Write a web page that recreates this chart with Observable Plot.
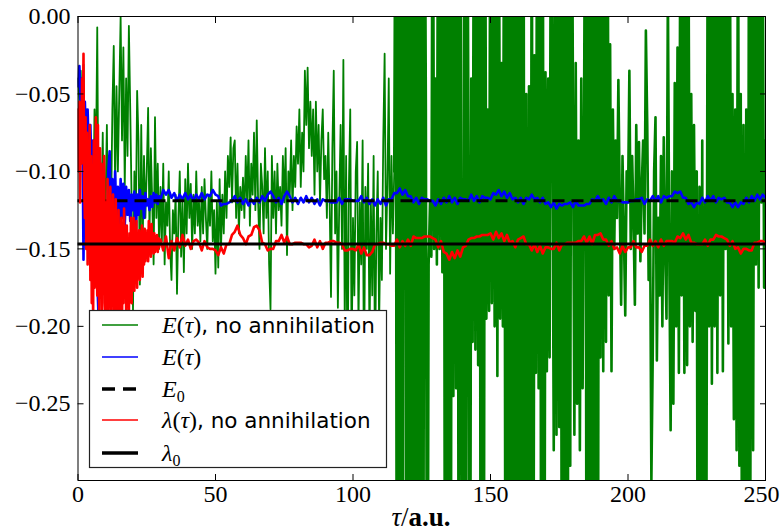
<!DOCTYPE html>
<html><head><meta charset="utf-8">
<script src="https://cdn.jsdelivr.net/npm/d3@7"></script>
<script src="https://cdn.jsdelivr.net/npm/@observablehq/plot@0.6"></script>
<style>
body{margin:0;background:white;}
#chart{position:relative;width:781px;height:531px;}
#chart svg{overflow:visible;}
#chart svg text{font-family:'Liberation Serif','Times New Roman',serif !important;}
</style>
</head><body><div id="chart"></div>
<script>
const xTicks = [0, 50, 100, 150, 200, 250];
const yTicks = [0, -0.05, -0.10, -0.15, -0.20, -0.25];
const xDomain = [0, 250];
const yDomain = [-0.2995, 0];
const E0 = -0.1189;
const lambda0 = -0.1468;

// E(tau), no annihilation : sampled every 0.5 a.u. from 0 to 250
const greenValues = [
 -0.040,-0.055,-0.035,-0.075,-0.031,-0.090,-0.060,-0.110,-0.070,-0.120,
 -0.085,-0.140,-0.060,-0.100,-0.007,-0.150,-0.090,-0.130,-0.075,-0.160,
 -0.120,-0.070,-0.150,-0.090,-0.130,-0.060,-0.019,-0.110,-0.045,-0.100,
 -0.050, 0.000,-0.080,-0.020,-0.110,-0.040,-0.090,-0.006,-0.060,-0.120,
 -0.190,-0.100,-0.140,-0.048,-0.080,-0.173,-0.070,-0.150,-0.090,-0.130,
 -0.100,-0.059,-0.140,-0.085,-0.120,-0.160,-0.065,-0.130,-0.095,-0.150,
 -0.110,-0.145,-0.095,-0.160,-0.120,-0.135,-0.100,-0.150,-0.170,-0.125,
 -0.140,-0.115,-0.179,-0.130,-0.100,-0.155,-0.120,-0.165,-0.105,-0.140,
 -0.095,-0.130,-0.108,-0.150,-0.115,-0.140,-0.100,-0.135,-0.120,-0.145,
 -0.110,-0.140,-0.105,-0.130,-0.150,-0.115,-0.135,-0.100,-0.145,-0.125,
 -0.166,-0.120,-0.162,-0.105,-0.150,-0.115,-0.140,-0.100,-0.130,-0.090,
 -0.110,-0.078,-0.120,-0.085,-0.080,-0.130,-0.095,-0.140,-0.110,-0.125,
 -0.104,-0.130,-0.090,-0.120,-0.080,-0.135,-0.095,-0.115,-0.075,-0.125,
 -0.067,-0.120,-0.150,-0.095,-0.110,-0.140,-0.085,-0.130,-0.100,-0.160,
 -0.189,-0.090,-0.130,-0.100,-0.140,-0.095,-0.125,-0.110,-0.135,-0.090,
 -0.120,-0.085,-0.154,-0.100,-0.115,-0.080,-0.125,-0.090,-0.110,-0.071,
 -0.095,-0.060,-0.110,-0.075,-0.100,-0.035,-0.070,-0.033,-0.085,-0.055,
 -0.090,-0.060,-0.115,-0.055,-0.100,-0.070,-0.120,-0.080,-0.060,-0.105,
 -0.090,-0.130,-0.075,-0.120,-0.181,-0.085,-0.035,-0.140,-0.100,-0.188,
 -0.120,-0.070,-0.150,-0.028,-0.200,-0.090,-0.250,-0.110,-0.060,-0.220,
 -0.130,-0.180,-0.100,-0.081,-0.200,-0.120,-0.160,-0.080,-0.240,-0.110,
 -0.150,-0.095,-0.210,-0.120,-0.180,-0.090,-0.230,-0.140,-0.100,-0.200,
 -0.130,-0.170,-0.080,-0.024,-0.150,-0.110,-0.040,-0.166,-0.090,-0.140,
 -0.100, 0.150,-0.550, 0.150,-0.550, 0.150,-0.550, 0.150, 0.120,-0.550,
  0.150,-0.550, 0.150,-0.550, 0.150,-0.550, 0.150,-0.550, 0.150,-0.550,
  0.150,-0.550, 0.150,-0.060,-0.550,-0.160,-0.120,-0.155, 0.150,-0.150,
 -0.040,-0.160, 0.150,-0.150, 0.150,-0.165, 0.150,-0.550, 0.150,-0.550,
  0.150,-0.550, 0.150,-0.245, 0.150,-0.240, 0.150,-0.550, 0.150,-0.200,
 -0.550, 0.150,-0.550, 0.150,-0.090,-0.550,-0.040,-0.210, 0.150,-0.215,
  0.150,-0.225, 0.150,-0.550, 0.150,-0.550, 0.150,-0.195,-0.060,-0.190,
  0.150,-0.185, 0.150,-0.200, 0.150,-0.232, 0.150,-0.195,-0.030,-0.200,
  0.150,-0.550, 0.150,-0.550, 0.150,-0.550, 0.150,-0.550, 0.150,-0.550,
  0.150,-0.550, 0.150,-0.550, 0.150,-0.550,-0.050,-0.550,-0.045,-0.550,
  0.150,-0.550,-0.025,-0.230, 0.150,-0.240, 0.150,-0.550, 0.150,-0.550,
 -0.036,-0.229,-0.040,-0.220, 0.150,-0.060,-0.280, 0.150,-0.270, 0.150,
 -0.265, 0.150,-0.550, 0.150,-0.550, 0.150,-0.550, 0.150,-0.290, 0.150,
 -0.060,-0.270,-0.030,-0.250,-0.080,-0.280,-0.040,-0.240,-0.070, 0.150,
 -0.550, 0.150,-0.550, 0.150,-0.550, 0.150,-0.550, 0.150,-0.550, 0.150,
 -0.220, 0.150,-0.229, 0.150,-0.210, 0.150,-0.180,-0.018,-0.229,-0.060,
 -0.150,-0.080,-0.130,-0.041,-0.120,-0.186,-0.090,-0.140,-0.193,-0.100,
 -0.120,-0.035,-0.150,-0.090,-0.130,-0.186,-0.070,-0.140,-0.081,-0.158,
 -0.110,-0.080,-0.140,-0.009,-0.070,-0.170,-0.120,-0.300,-0.218,-0.100,
 -0.065,-0.222,-0.130,-0.180,-0.090,-0.200,-0.078,-0.150,-0.195, 0.020,
 -0.150,-0.267,-0.100,-0.250,-0.043,-0.200,-0.020,-0.230, 0.050,-0.180,
  0.050,-0.230, 0.020,-0.225, 0.050,-0.200,-0.050,-0.210,-0.070,-0.190,
 -0.100,-0.550,-0.110,-0.400,-0.080,-0.550,-0.120,-0.350, 0.100,-0.200,
  0.100,-0.237, 0.100,-0.200, 0.100,-0.230, 0.100,-0.180, 0.100,-0.229,
  0.050,-0.150, 0.100,-0.211, 0.100,-0.200,-0.050,-0.260,-0.060,-0.280,
  0.100,-0.290,-0.050,-0.400,-0.070,-0.550,-0.060,-0.450, 0.100,-0.300,
  0.100,-0.280, 0.100,-0.160, 0.050,-0.175, 0.100,-0.120, 0.050,-0.175,
 -0.080
];

// E(tau): 0..29.5 every 0.5, then 30..250 every 1
const blueEarly = [
 -0.045,-0.032,-0.060,-0.040,-0.157,-0.055,-0.085,-0.060,-0.095,-0.070,
 -0.110,-0.080,-0.140,-0.095,-0.170,-0.195,-0.110,-0.150,-0.100,-0.160,
 -0.120,-0.185,-0.100,-0.087,-0.140,-0.105,-0.150,-0.100,-0.135,-0.110,
 -0.153,-0.105,-0.130,-0.108,-0.135,-0.110,-0.128,-0.112,-0.132,-0.115,
 -0.125,-0.113,-0.145,-0.115,-0.128,-0.112,-0.124,-0.116,-0.130,-0.114,
 -0.122,-0.118,-0.125,-0.116,-0.123,-0.114,-0.120,-0.115,-0.121,-0.116
];
const blueLate = [
 -0.118,-0.112,-0.115,-0.112,-0.117,-0.114,-0.119,-0.115,-0.118,-0.114,
 -0.118,-0.115,-0.119,-0.115,-0.118,-0.114,-0.118,-0.115,-0.116,-0.112,
 -0.115,-0.116,-0.122,-0.121,-0.121,-0.120,-0.119,-0.116,-0.120,-0.117,
 -0.121,-0.118,-0.122,-0.118,-0.121,-0.117,-0.120,-0.116,-0.119,-0.115,
 -0.113,-0.116,-0.120,-0.117,-0.121,-0.116,-0.113,-0.116,-0.120,-0.117,
 -0.121,-0.117,-0.120,-0.116,-0.120,-0.117,-0.121,-0.118,-0.122,-0.118,
 -0.119,-0.119,-0.120,-0.120,-0.120,-0.117,-0.121,-0.118,-0.118,-0.118,
 -0.119,-0.119,-0.119,-0.116,-0.120,-0.117,-0.121,-0.118,-0.122,-0.118,
 -0.121,-0.117,-0.122,-0.118,-0.118,-0.114,-0.114,-0.111,-0.115,-0.112,
 -0.116,-0.116,-0.120,-0.117,-0.121,-0.117,-0.118,-0.118,-0.119,-0.119,
 -0.122,-0.118,-0.121,-0.117,-0.120,-0.116,-0.120,-0.117,-0.121,-0.117,
 -0.118,-0.118,-0.119,-0.115,-0.119,-0.116,-0.120,-0.116,-0.117,-0.117,
 -0.118,-0.114,-0.115,-0.112,-0.116,-0.113,-0.117,-0.114,-0.118,-0.117,
 -0.120,-0.117,-0.121,-0.117,-0.118,-0.115,-0.118,-0.117,-0.120,-0.117,
 -0.121,-0.120,-0.123,-0.120,-0.124,-0.121,-0.122,-0.121,-0.121,-0.120,
 -0.123,-0.119,-0.122,-0.122,-0.122,-0.121,-0.121,-0.118,-0.119,-0.116,
 -0.119,-0.118,-0.121,-0.117,-0.120,-0.116,-0.119,-0.119,-0.120,-0.120,
 -0.120,-0.119,-0.119,-0.118,-0.118,-0.117,-0.121,-0.118,-0.119,-0.116,
 -0.119,-0.116,-0.120,-0.116,-0.117,-0.116,-0.116,-0.113,-0.114,-0.113,
 -0.117,-0.117,-0.121,-0.120,-0.123,-0.120,-0.121,-0.117,-0.120,-0.116,
 -0.119,-0.116,-0.120,-0.117,-0.118,-0.117,-0.120,-0.120,-0.123,-0.120,
 -0.123,-0.120,-0.121,-0.117,-0.120,-0.116,-0.119,-0.115,-0.118,-0.115,
 -0.117
];

// lambda(tau), no annihilation: 0..29.75 every 0.25, then 30..250 every 1
const redEarly = [
 -0.060,-0.100,-0.055,-0.120,-0.070,-0.095,-0.040,-0.080,-0.024,-0.110,
 -0.130,-0.065,-0.150,-0.075,-0.160,-0.085,-0.140,-0.070,-0.170,-0.090,
 -0.185,-0.100,-0.195,-0.080,-0.175,-0.110,-0.065,-0.150,-0.180,-0.070,
 -0.160,-0.195,-0.085,-0.170,-0.095,-0.190,-0.110,-0.160,-0.090,-0.185,
 -0.195,-0.120,-0.180,-0.105,-0.200,-0.130,-0.175,-0.110,-0.190,-0.125,
 -0.170,-0.115,-0.200,-0.140,-0.180,-0.118,-0.195,-0.135,-0.175,-0.125,
 -0.200,-0.150,-0.190,-0.130,-0.200,-0.145,-0.185,-0.124,-0.175,-0.140,
 -0.190,-0.135,-0.180,-0.150,-0.195,-0.140,-0.175,-0.130,-0.185,-0.145,
 -0.172,-0.130,-0.177,-0.145,-0.168,-0.132,-0.175,-0.140,-0.165,-0.138,
 -0.170,-0.140,-0.162,-0.135,-0.168,-0.142,-0.160,-0.137,-0.158,-0.142,
 -0.155,-0.138,-0.158,-0.132,-0.152,-0.136,-0.155,-0.134,-0.150,-0.140,
 -0.153,-0.140,-0.152,-0.142,-0.150,-0.141,-0.152,-0.143,-0.149,-0.144
];
const redLate = [
 -0.144,-0.151,-0.142,-0.156,-0.145,-0.151,-0.143,-0.149,-0.141,-0.148,
 -0.144,-0.150,-0.145,-0.144,-0.146,-0.151,-0.145,-0.149,-0.150,-0.150,
 -0.151,-0.154,-0.149,-0.153,-0.147,-0.147,-0.141,-0.139,-0.135,-0.141,
 -0.143,-0.147,-0.142,-0.141,-0.136,-0.135,-0.138,-0.146,-0.147,-0.151,
 -0.150,-0.150,-0.145,-0.145,-0.141,-0.146,-0.142,-0.147,-0.147,-0.146,
 -0.146,-0.146,-0.147,-0.147,-0.149,-0.148,-0.144,-0.149,-0.145,-0.150,
 -0.146,-0.146,-0.145,-0.145,-0.146,-0.146,-0.147,-0.151,-0.151,-0.150,
 -0.150,-0.151,-0.147,-0.153,-0.149,-0.154,-0.154,-0.152,-0.147,-0.147,
 -0.146,-0.146,-0.147,-0.147,-0.148,-0.148,-0.144,-0.149,-0.145,-0.148,
 -0.144,-0.148,-0.142,-0.143,-0.143,-0.143,-0.142,-0.142,-0.142,-0.143,
 -0.144,-0.149,-0.145,-0.152,-0.153,-0.157,-0.152,-0.156,-0.151,-0.155,
 -0.149,-0.148,-0.144,-0.143,-0.143,-0.142,-0.142,-0.141,-0.141,-0.141,
 -0.140,-0.144,-0.139,-0.143,-0.140,-0.145,-0.141,-0.146,-0.145,-0.149,
 -0.144,-0.143,-0.142,-0.147,-0.147,-0.151,-0.147,-0.152,-0.148,-0.153,
 -0.149,-0.149,-0.150,-0.150,-0.146,-0.151,-0.147,-0.147,-0.146,-0.146,
 -0.146,-0.146,-0.145,-0.145,-0.142,-0.146,-0.142,-0.147,-0.141,-0.141,
 -0.140,-0.144,-0.144,-0.148,-0.145,-0.150,-0.149,-0.153,-0.148,-0.152,
 -0.149,-0.149,-0.145,-0.149,-0.149,-0.152,-0.148,-0.148,-0.144,-0.148,
 -0.145,-0.149,-0.144,-0.148,-0.145,-0.145,-0.145,-0.146,-0.142,-0.143,
 -0.140,-0.144,-0.141,-0.146,-0.146,-0.147,-0.147,-0.147,-0.144,-0.148,
 -0.144,-0.144,-0.141,-0.142,-0.142,-0.143,-0.144,-0.148,-0.145,-0.150,
 -0.149,-0.153,-0.150,-0.150,-0.151,-0.151,-0.146,-0.146,-0.145,-0.145,
 -0.146
];

const legendSymbols = ["E", "E", "E", "λ", "λ"];
const legendArgs = ["(τ)", "(τ)", "0", "(τ)", "0"];
const legendRest = [", no annihilation", "", "", ", no annihilation", ""];
const xLabelParts = ["τ", "/", "a.u."];

const green = greenValues.map((v, i) => ({t: i * 0.5, v}));
const greenCalm = green.filter(d => d.t <= 115);
const greenWild = green.filter(d => d.t >= 115);
const blue = [
  ...blueEarly.map((v, i) => ({t: i * 0.5, v})),
  ...blueLate.map((v, i) => ({t: 30 + i, v}))
];
const red = [
  ...redEarly.map((v, i) => ({t: i * 0.25, v})),
  ...redLate.map((v, i) => ({t: 30 + i, v}))
];

const GREEN = "#008000", BLUE = "#0000ff", RED = "#ff0000";
const fmtY = d3.format(".2f");
const lastX = xTicks[xTicks.length - 1];

const plot = Plot.plot({
  width: 781, height: 531,
  marginLeft: 77.5, marginRight: 16, marginTop: 16, marginBottom: 51,
  x: {domain: xDomain},
  y: {domain: yDomain},
  style: {background: "white", fontSize: "24px", color: "black"},
  marks: [
    Plot.lineY(greenCalm, {x: "t", y: "v", stroke: GREEN, strokeWidth: 1.8, clip: true}),
    Plot.lineY(greenWild, {x: "t", y: "v", stroke: GREEN, strokeWidth: 2.6, clip: true}),
    Plot.lineY(blue, {x: "t", y: "v", stroke: BLUE, strokeWidth: 2.6, clip: true}),
    Plot.ruleY([E0], {stroke: "black", strokeWidth: 3, strokeDasharray: "12,7"}),
    Plot.lineY(red, {x: "t", y: "v", stroke: RED, strokeWidth: 2.6, clip: true}),
    Plot.ruleY([lambda0], {stroke: "black", strokeWidth: 3}),
    Plot.frame({stroke: "black", strokeWidth: 1}),
    Plot.axisX(xTicks, {anchor: "bottom", tickSize: -6, tickPadding: 10, tickFormat: d => d === lastX ? "" : String(d), label: null, fontSize: 24}),
    Plot.axisX([lastX], {anchor: "bottom", tickSize: 0, tickPadding: 4, textAnchor: "end", dx: 14, tickFormat: d => String(d), label: null, fontSize: 24}),
    Plot.axisX(xTicks, {anchor: "top", tickSize: -6, tickFormat: () => "", label: null}),
    Plot.axisY(yTicks, {anchor: "left", tickSize: -6, tickPadding: 13.5, tickFormat: fmtY, label: null, fontSize: 24}),
    Plot.axisY(yTicks, {anchor: "right", tickSize: -6, tickFormat: () => "", label: null})
  ]
});
document.getElementById("chart").appendChild(plot);

const svg = d3.select(plot);

// legend (inside the axes, lower left) and x-axis label
const lg = svg.append("g").attr("text-anchor", "start");
lg.append("rect").attr("x", 89.5).attr("y", 310.5).attr("width", 297).attr("height", 157)
  .attr("fill", "white").attr("stroke", "#222").attr("stroke-width", 1.2);
const rowY = [325, 357, 389, 420, 453];
const swatch = [
  {stroke: GREEN, width: 1.3, dash: null},
  {stroke: BLUE, width: 1.3, dash: null},
  {stroke: "black", width: 3.5, dash: "13,8"},
  {stroke: RED, width: 1.3, dash: null},
  {stroke: "black", width: 3.5, dash: null}
];
rowY.forEach((y, i) => {
  lg.append("line").attr("x1", 102).attr("x2", 138).attr("y1", y).attr("y2", y)
    .attr("stroke", swatch[i].stroke).attr("stroke-width", swatch[i].width)
    .attr("stroke-dasharray", swatch[i].dash);
  const t = lg.append("text").attr("x", 162).attr("y", y + 8).attr("text-anchor", "start")
    .attr("font-size", 24).attr("fill", "black");
  t.append("tspan").attr("font-style", "italic").text(legendSymbols[i]);
  const arg = legendArgs[i];
  if (arg === "0") {
    t.append("tspan").attr("font-size", 16).attr("dy", 5).text("0");
  } else {
    t.append("tspan").text("(");
    t.append("tspan").attr("font-style", "italic").text("τ");
    t.append("tspan").text(")");
  }
  if (legendRest[i]) {
    t.append("tspan").style("font-family", "'DejaVu Sans', sans-serif").attr("font-size", 21.5).text(legendRest[i]);
  }
});

const xl = svg.append("text").attr("x", 421).attr("y", 526).attr("text-anchor", "middle")
  .attr("font-size", 27).attr("fill", "black");
xl.append("tspan").attr("font-style", "italic").text(xLabelParts[0]);
xl.append("tspan").text(xLabelParts[1]);
xl.append("tspan").attr("font-weight", "bold").text(xLabelParts[2]);
</script>
</body></html>
